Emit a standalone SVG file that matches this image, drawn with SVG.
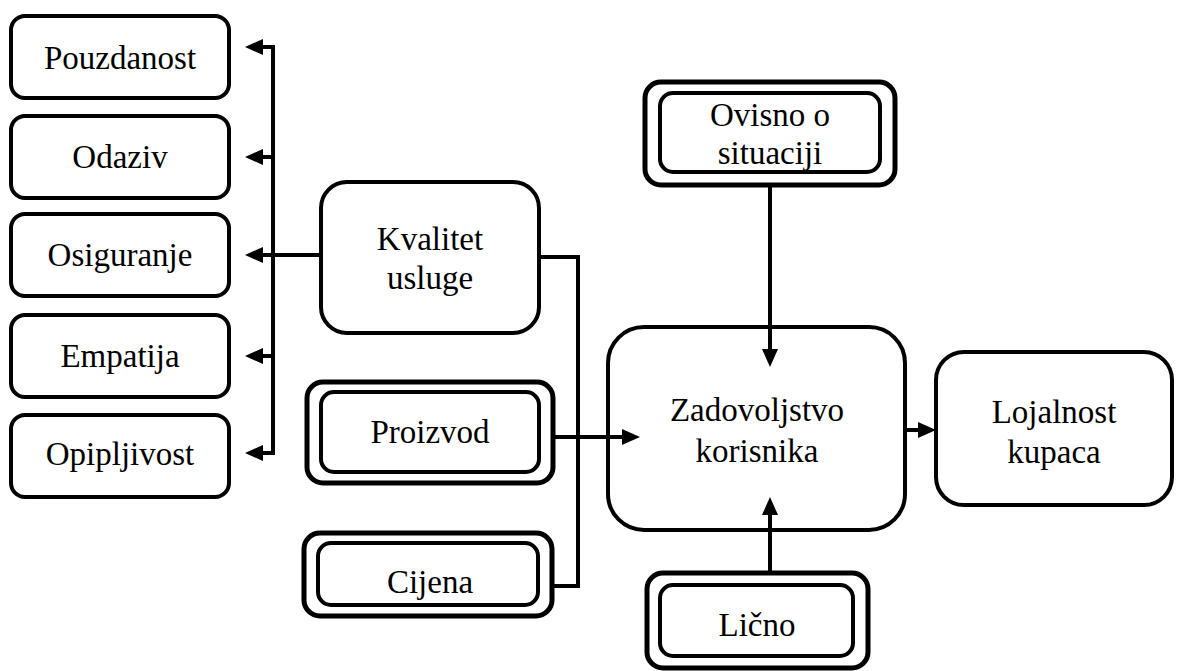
<svg xmlns="http://www.w3.org/2000/svg" width="1181" height="671" viewBox="0 0 1181 671">
  <style>
    .box { fill: #fff; stroke: #000; stroke-width: 4; }
    .outer { fill: #fff; stroke: #000; stroke-width: 5; }
    .inner { fill: none; stroke: #000; stroke-width: 4; }
    .lbl { font-family: 'Liberation Serif', 'Times New Roman', serif; font-size: 33px; fill: #000; text-anchor: middle; }
    .wire { fill: none; stroke: #000; stroke-width: 4; }
    .arrow { fill: none; stroke: #000; stroke-width: 4; marker-end: url(#head); }
  </style>
  <defs>
    <marker id="head" markerUnits="userSpaceOnUse" markerWidth="20" markerHeight="18" refX="2" refY="8" orient="auto">
      <path d="M0,0 L18,8 L0,16 z" fill="#000"/>
    </marker>
  </defs>
  <rect width="1181" height="671" fill="#fff"/>

  <!-- dimensions of service quality -->
  <g id="pouzdanost">
    <rect class="box" x="11" y="16" width="218" height="82" rx="14"/>
    <text class="lbl" x="120" y="69">Pouzdanost</text>
  </g>
  <g id="odaziv">
    <rect class="box" x="11" y="116" width="218" height="82" rx="14"/>
    <text class="lbl" x="120" y="168">Odaziv</text>
  </g>
  <g id="osiguranje">
    <rect class="box" x="11" y="214" width="218" height="82" rx="14"/>
    <text class="lbl" x="120" y="266">Osiguranje</text>
  </g>
  <g id="empatija">
    <rect class="box" x="11" y="315" width="218" height="82" rx="14"/>
    <text class="lbl" x="120" y="367">Empatija</text>
  </g>
  <g id="opipljivost">
    <rect class="box" x="11" y="415" width="218" height="82" rx="14"/>
    <text class="lbl" x="120" y="465">Opipljivost</text>
  </g>

  <g id="kvalitet-usluge">
    <rect class="box" x="321" y="182" width="218" height="151" rx="26"/>
    <text class="lbl" x="430" y="250">Kvalitet</text>
    <text class="lbl" x="430" y="289">usluge</text>
  </g>

  <g id="proizvod">
    <rect class="outer" x="307" y="382" width="246" height="101" rx="16"/>
    <rect class="inner" x="321" y="392" width="218" height="80" rx="13"/>
    <text class="lbl" x="430" y="443">Proizvod</text>
  </g>

  <g id="cijena">
    <rect class="outer" x="304" y="533" width="248" height="83" rx="16"/>
    <rect class="inner" x="318" y="543" width="220" height="62" rx="13"/>
    <text class="lbl" x="430" y="593">Cijena</text>
  </g>

  <g id="ovisno-o-situaciji">
    <rect class="outer" x="645" y="82" width="250" height="103" rx="16"/>
    <rect class="inner" x="660" y="93" width="220" height="79" rx="13"/>
    <text class="lbl" x="770" y="126">Ovisno o</text>
    <text class="lbl" x="770" y="164">situaciji</text>
  </g>

  <g id="zadovoljstvo-korisnika">
    <rect class="box" x="608" y="327" width="297" height="203" rx="36"/>
    <text class="lbl" x="757" y="421">Zadovoljstvo</text>
    <text class="lbl" x="757" y="462">korisnika</text>
  </g>

  <g id="licno">
    <rect class="outer" x="647" y="573" width="221" height="95" rx="16"/>
    <rect class="inner" x="660" y="585" width="193" height="71" rx="13"/>
    <text class="lbl" x="757" y="636">Lično</text>
  </g>

  <g id="lojalnost-kupaca">
    <rect class="box" x="936" y="352" width="236" height="153" rx="28"/>
    <text class="lbl" x="1054" y="423">Lojalnost</text>
    <text class="lbl" x="1054" y="463">kupaca</text>
  </g>

  <g id="connectors">
    <path class="wire" d="M273,45 V455"/>
    <path class="arrow" d="M275,47 H261"/>
    <path class="arrow" d="M275,157 H261"/>
    <path class="arrow" d="M275,255 H261"/>
    <path class="arrow" d="M275,356 H261"/>
    <path class="arrow" d="M275,453 H261"/>
    <path class="wire" d="M273,255 H321"/>
    <path class="wire" d="M539,257 H578 V586 H552"/>
    <path class="arrow" d="M553,437 H624"/>
    <path class="arrow" d="M770,185 V351"/>
    <path class="arrow" d="M770,573 V513"/>
    <path class="arrow" d="M905,430 H920"/>
  </g>
</svg>
